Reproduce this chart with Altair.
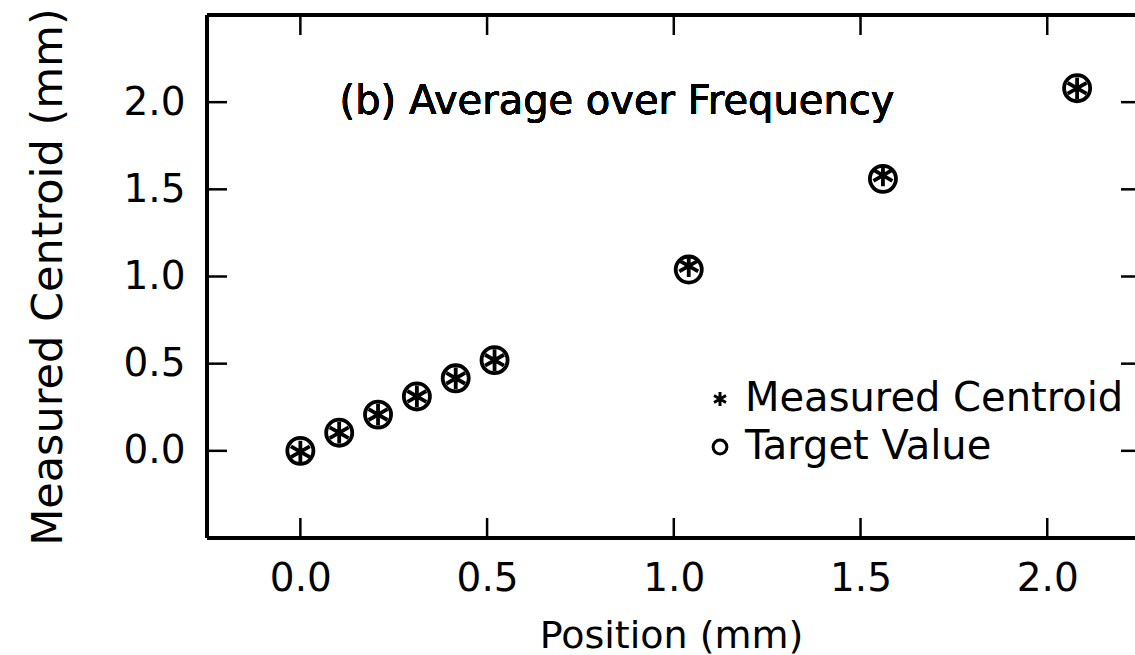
import altair as alt
import pandas as pd

# ---- data ----
position = [0.0, 0.104, 0.208, 0.312, 0.416, 0.52, 1.04, 1.56, 2.08]
measured = [-0.005, 0.104, 0.208, 0.312, 0.416, 0.52, 1.06, 1.58, 2.08]
target = [0.0, 0.104, 0.208, 0.312, 0.416, 0.52, 1.04, 1.56, 2.08]

x_ticks = [0.0, 0.5, 1.0, 1.5, 2.0]
y_ticks = [0.0, 0.5, 1.0, 1.5, 2.0]
x_domain = [-0.25, 2.235]
y_domain = [-0.5, 2.5]

series_names = ["Measured Centroid", "Target Value"]
annotation = "(b) Average over Frequency"

FONT = "DejaVu Sans"
ASTERISK = "M0,-1L0,1M-0.87,-0.5L0.87,0.5M-0.87,0.5L0.87,-0.5"
W, H = 928, 523

df = pd.DataFrame({"position": position, "measured": measured, "target": target})
xtick_df = pd.DataFrame({"t": x_ticks})
ytick_df = pd.DataFrame({"t": y_ticks})

xs = alt.Scale(domain=x_domain, nice=False, zero=False)
ys = alt.Scale(domain=y_domain, nice=False, zero=False)
shape_scale = alt.Scale(domain=series_names, range=[ASTERISK, "circle"])

legend = alt.Legend(
    title=None, orient="none", legendX=493, legendY=364,
    labelFont=FONT, labelFontSize=40, labelColor="black", labelLimit=0,
    symbolSize=190, symbolStrokeWidth=3, symbolStrokeColor="black",
    symbolFillColor="transparent", symbolType="circle",
    labelOffset=5, rowPadding=8, padding=0,
)

ax_bottom = alt.Axis(values=x_ticks, format=".1f", ticks=False, domain=False, grid=False,
                     labelFont=FONT, labelFontSize=39, labelColor="black", labelPadding=21,
                     title="Position (mm)", titleFont=FONT, titleFontSize=38,
                     titleFontWeight="normal", titleColor="black", titlePadding=19)
ax_left = alt.Axis(values=y_ticks, format=".1f", ticks=False, domain=False, grid=False,
                   labelFont=FONT, labelFontSize=39, labelColor="black", labelPadding=22,
                   title="Measured Centroid (mm)", titleFont=FONT, titleFontSize=43,
                   titleFontWeight="normal", titleColor="black", titlePadding=52)

measured_layer = alt.Chart(df).mark_point(
    filled=False, size=470, strokeWidth=3.8, color="black", opacity=1
).encode(
    x=alt.X("position:Q", scale=xs, axis=ax_bottom),
    y=alt.Y("measured:Q", scale=ys, axis=ax_left),
    shape=alt.Shape("s:N", scale=shape_scale, legend=legend),
).transform_calculate(s="'Measured Centroid'")

target_layer = alt.Chart(df).mark_point(
    filled=False, size=680, strokeWidth=3.8, color="black", opacity=1
).encode(
    x=alt.X("position:Q", scale=xs, axis=ax_bottom),
    y=alt.Y("target:Q", scale=ys, axis=ax_left),
    shape=alt.Shape("s:N", scale=shape_scale, legend=legend),
).transform_calculate(s="'Target Value'")

rule = dict(color="black", strokeWidth=3.5)
frame_top = alt.Chart(df).mark_rule(**rule).encode(
    y=alt.Y(datum=y_domain[1], scale=ys, axis=ax_left))
frame_bottom = alt.Chart(df).mark_rule(**rule).encode(
    y=alt.Y(datum=y_domain[0], scale=ys, axis=ax_left))
frame_left = alt.Chart(df).mark_rule(**rule).encode(
    x=alt.X(datum=x_domain[0], scale=xs, axis=ax_bottom))

tick = dict(color="black", strokeWidth=2.5)
left_ticks = alt.Chart(ytick_df).mark_rule(**tick).encode(
    y=alt.Y("t:Q", scale=ys, axis=ax_left), x=alt.value(0), x2=alt.value(20))
right_ticks = alt.Chart(ytick_df).mark_rule(**tick).encode(
    y=alt.Y("t:Q", scale=ys, axis=ax_left), x=alt.value(W - 14), x2=alt.value(W))
top_ticks = alt.Chart(xtick_df).mark_rule(**tick).encode(
    x=alt.X("t:Q", scale=xs, axis=ax_bottom), y=alt.value(0), y2=alt.value(20))
bottom_ticks = alt.Chart(xtick_df).mark_rule(**tick).encode(
    x=alt.X("t:Q", scale=xs, axis=ax_bottom), y=alt.value(H - 20), y2=alt.value(H))

note = alt.Chart(df).mark_text(
    text=annotation, font=FONT, fontSize=40, align="left", baseline="alphabetic", color="black"
).encode(
    x=alt.X(datum=0.105, scale=xs, axis=ax_bottom),
    y=alt.Y(datum=1.93, scale=ys, axis=ax_left),
)

chart = alt.layer(
    measured_layer, target_layer,
    frame_top, frame_bottom, frame_left,
    left_ticks, right_ticks, top_ticks, bottom_ticks, note,
).properties(
    width=W, height=H,
    padding={"left": 207, "top": 15, "right": 0, "bottom": 117},
    autosize="none",
).configure_view(stroke=None).configure(background="white")

chart.save("out.html", embed_options={"renderer": "svg", "actions": False})
